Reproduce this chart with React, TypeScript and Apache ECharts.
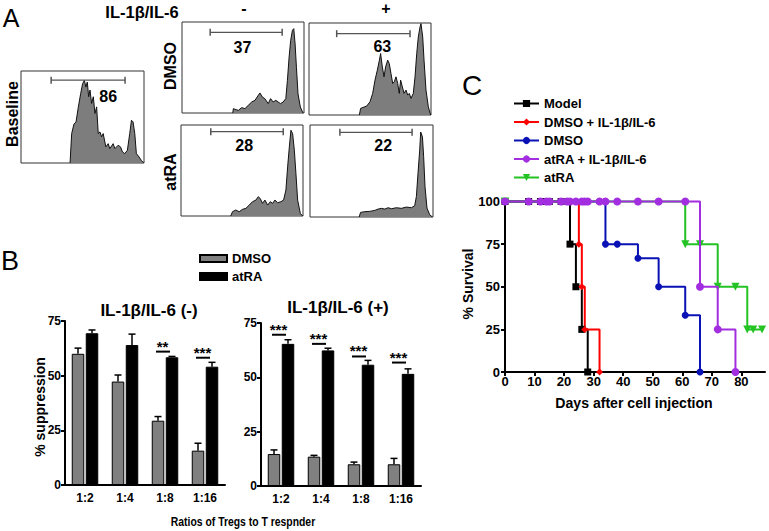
import React, { useEffect, useRef } from 'react';
import * as echarts from 'echarts';

const FONT = '"Liberation Sans", Arial, Helvetica, sans-serif';

// ---------- Panel A : flow histograms [channel %, count % of box] ----------
const histBaseline = [[39.9,0],[41.2,32],[43.1,42.5],[44.7,44.4],[46.6,60.7],[48.5,75.3],[50.1,86.2],[51.5,89.8],[52.8,82.5],[53.9,88],[55,72],[56.1,79.3],[57.4,64.7],[58.8,72],[60.1,53.8],[61.5,61],[62.8,32],[64.2,33.8],[65.5,28.4],[66.8,32],[69,17.5],[70.9,21],[72.2,15.6],[74.9,21],[76.3,15.6],[79,19.3],[80.9,17.5],[82.5,12],[84.4,10.2],[86.5,13.8],[88.4,32],[89.8,46.5],[91.1,44.7],[92.5,32],[93.8,10.2],[96,6.5],[97.8,2.9],[99.7,0]];
const histDmsoMinus = [[41.6,0],[42.1,4.8],[44.3,3.7],[46.2,2.9],[48.9,5.9],[51.6,4.8],[54.3,8.4],[57.1,12.1],[59.8,13.9],[62.5,19.4],[63.9,22],[65.8,17.6],[67.9,15.8],[70.7,10.3],[72.6,15.8],[74.7,12.1],[76.9,13.9],[78.8,12.1],[80.7,10.3],[82.9,12.1],[85.1,15.8],[86.4,35.9],[87.8,61.5],[89.1,79.9],[90.5,90.8],[91.6,92.7],[92.7,75.8],[93.8,50.2],[95.1,21],[97,6.6],[99.2,0]];
const histDmsoPlus = [[41.3,0],[42.3,7.2],[44.5,8.3],[47.3,9.7],[50,14.4],[52.2,23.5],[54.1,37.9],[56,48.7],[57.7,59.6],[58.7,66.8],[60.1,52.3],[61.5,41.5],[62.8,52.3],[64.5,59.6],[65.8,55.9],[67.2,45.1],[68.6,34.3],[69.9,36.1],[71.3,41.5],[72.7,34.3],[74,23.5],[75.1,37.9],[76.5,30.7],[77.9,23.5],[79.5,27.1],[80.9,21.7],[82.2,23.5],[83.6,18.1],[85.5,23.5],[86.9,41.5],[88.3,66.8],[89.6,84.8],[91,95.7],[91.8,99.3],[93.2,84.8],[94.3,59.6],[95.9,27.1],[97.8,9],[99.7,0]];
const histAtraMinus = [[40.8,0],[42.2,4.7],[44.9,6.6],[47.7,4.7],[50.4,7.3],[53.2,8.4],[55.9,12],[58.6,15.7],[61.4,17.5],[63.3,21.2],[64.9,19.3],[66.8,13.9],[68.8,17.5],[71,12],[73.2,15.7],[75.1,13.9],[77,17.5],[79.2,14.6],[81.9,15.7],[84.1,17.5],[86,28.5],[87.4,54],[88.8,75.9],[90.1,94.2],[91.5,90.5],[92.9,72.3],[94.2,46.7],[95.6,17.5],[97.8,2.9],[99.7,0]];
const histAtraPlus = [[40,0],[41.1,5],[44.6,5.8],[48.6,6.1],[52.7,7.2],[55.4,8.6],[58.1,9.4],[60.8,8.6],[63.5,10.1],[66.2,9],[70.3,10.1],[74.3,9.4],[78.4,10.8],[82.4,10.1],[85.1,12.2],[86.5,22.3],[87.8,47.5],[89.2,72.7],[90,92.4],[91.4,87.1],[92.4,65.5],[93.5,33.1],[95.1,9.7],[97.3,2.5],[99.5,0]];
const histograms = [histBaseline, histDmsoMinus, histDmsoPlus, histAtraMinus, histAtraPlus];
const gatePercents = [86, 37, 63, 28, 22];
const gateStart = [24.5, 23.1, 22.7, 24.4, 24.3];
const gateEnd = [84.6, 82.1, 82.8, 83.8, 83.0];
const gateLevel = [90, 88.6, 88.4, 92.7, 92];
const gateTextX = [70.9, 49.5, 60.1, 51.8, 59.5];
const gateTextY = [72, 72.5, 74, 77, 77.3];

// ---------- Panel B : suppression bars ----------
const ratios = ['1:2', '1:4', '1:8', '1:16'];
const dmsoMinus = [60, 47.3, 29.4, 15.7];
const dmsoMinusErr = [2.6, 3, 1.9, 3.4];
const atraMinus = [69.4, 64, 58.4, 54.1];
const atraMinusErr = [1.5, 5, 0.4, 2];
const dmsoPlus = [14.7, 13.5, 10, 10];
const dmsoPlusErr = [1.9, 0.6, 1, 2.7];
const atraPlus = [65.4, 62.4, 55.8, 51.6];
const atraPlusErr = [1.9, 1, 2, 2.3];
const sigStarsMinus = [0, 0, 2, 3];
const sigLevelMinus = [0, 0, 61, 58.2];
const sigStarsPlus = [3, 3, 3, 3];
const sigLevelPlus = [69.6, 65.4, 59.6, 56.8];
const suppressionTicks = [0, 25, 50, 75];

// ---------- Panel C : survival ----------
const kmModel = [[0,100],[8,100],[12,100],[14,100],[15,100],[19,100],[22,75],[24,50],[26,25],[28,0]];
const kmDmsoIL = [[0,100],[25,75],[26,50],[27,25],[32,0]];
const kmDmso = [[0,100],[34,75],[38,75],[45,66.7],[52,50],[61,33.3],[66,0]];
const kmAtraIL = [[0,100],[8,100],[12,100],[14,100],[15,100],[19,100],[21,100],[22,100],[24,100],[26,100],[27,100],[28,100],[32,100],[34,100],[38,100],[45,100],[52,100],[61,100],[66,50],[72,25],[78,0]];
const kmAtra = [[0,100],[61,75],[66,75],[72,50],[78,50],[82,25],[84,25],[87,25]];
const kmNames = ['Model', 'DMSO + IL-1β/IL-6', 'DMSO', 'atRA + IL-1β/IL-6', 'atRA'];

const histGrids = [
  { left: 21, top: 71, width: 123, height: 92 },
  { left: 182, top: 22, width: 122, height: 91 },
  { left: 309, top: 23, width: 122, height: 92 },
  { left: 181, top: 125, width: 122, height: 91 },
  { left: 310, top: 125, width: 123, height: 92 },
];

function txt(text: string, x: number, y: number, size: number, weight = 'bold', rot = 0, sx = 1) {
  return {
    type: 'text', x, y, rotation: rot, scaleX: sx,
    style: {
      text, fontSize: size, fontWeight: weight, fontFamily: FONT, fill: '#000',
      textAlign: 'center', textVerticalAlign: 'middle', align: 'center', verticalAlign: 'middle',
    },
  };
}

const errRender = (offset: number) => (params: any, api: any) => {
  const i = api.value(0), v = api.value(1), e = api.value(2);
  const p0 = api.coord([i, v]);
  const p1 = api.coord([i, v + e]);
  const x = p0[0] + offset;
  return {
    type: 'group',
    children: [
      { type: 'line', shape: { x1: x, y1: p0[1], x2: x, y2: p1[1] }, style: { stroke: '#000', lineWidth: 1.5 } },
      { type: 'line', shape: { x1: x - 3.5, y1: p1[1], x2: x + 3.5, y2: p1[1] }, style: { stroke: '#000', lineWidth: 1.5 } },
    ],
  };
};

const sigRender = (params: any, api: any) => {
  const i = api.value(0), lvl = api.value(1), n = api.value(2);
  const p = api.coord([i, lvl]);
  return {
    type: 'group',
    children: [
      { type: 'line', shape: { x1: p[0] - 9, y1: p[1], x2: p[0] + 5, y2: p[1] }, style: { stroke: '#000', lineWidth: 2 } },
      {
        type: 'text',
        style: {
          text: '*'.repeat(n), x: p[0] - 2.5, y: p[1] - 5.5, fill: '#000',
          fontSize: 15, fontWeight: 'bold', fontFamily: FONT,
          textAlign: 'center', textVerticalAlign: 'middle', align: 'center', verticalAlign: 'middle',
        },
      },
    ],
  };
};

const gateLabelRender = (params: any, api: any) => {
  const p = api.coord([api.value(0), api.value(1)]);
  return {
    type: 'text',
    style: {
      text: String(api.value(2)), x: p[0], y: p[1], fill: '#000',
      fontSize: 16, fontWeight: 'bold', fontFamily: FONT,
      textAlign: 'center', textVerticalAlign: 'middle', align: 'center', verticalAlign: 'middle',
    },
  };
};

export default function App() {
  const ref = useRef<HTMLDivElement>(null);
  useEffect(() => {
    const chart = echarts.init(ref.current!, null, { renderer: 'svg' });

    const grids: any[] = histGrids.map((g) => ({
      ...g, show: true, borderColor: '#333', borderWidth: 1, outerBoundsMode: 'none',
    }));
    grids.push({ left: 65, top: 321, width: 160, height: 164, outerBoundsMode: 'none' });
    grids.push({ left: 261, top: 323, width: 160, height: 163, outerBoundsMode: 'none' });
    grids.push({ left: 505, top: 201.5, width: 260, height: 170.5, outerBoundsMode: 'none' });

    const xAxes: any[] = histGrids.map((_, i) => ({ type: 'value', gridIndex: i, min: 0, max: 100, show: false }));
    const yAxes: any[] = histGrids.map((_, i) => ({ type: 'value', gridIndex: i, min: 0, max: 100, show: false }));

    const bLabel = { color: '#000', fontWeight: 'bold', fontSize: 12, fontFamily: FONT };
    [5, 6].forEach((gi) => {
      xAxes.push({
        type: 'category', gridIndex: gi, data: ratios,
        axisLine: { show: true, lineStyle: { color: '#000', width: 2 } },
        axisTick: { show: false },
        axisLabel: { ...bLabel, margin: 7 },
      });
      yAxes.push({
        type: 'value', gridIndex: gi, min: suppressionTicks[0], max: suppressionTicks[3], interval: 25,
        splitLine: { show: false },
        axisLine: { show: true, lineStyle: { color: '#000', width: 2 } },
        axisTick: { show: true, length: 4, lineStyle: { color: '#000', width: 2 } },
        axisLabel: { ...bLabel, margin: 4 },
      });
    });
    xAxes.push({
      type: 'value', gridIndex: 7, min: 0, max: 88, interval: 10,
      splitLine: { show: false },
      axisLine: { show: true, lineStyle: { color: '#000', width: 2 } },
      axisTick: { show: true, length: 4, lineStyle: { color: '#000', width: 2 } },
      axisLabel: { color: '#000', fontWeight: 'bold', fontSize: 13, fontFamily: FONT, margin: 3, showMaxLabel: false },
    });
    yAxes.push({
      type: 'value', gridIndex: 7, min: 0, max: 100, interval: 25,
      splitLine: { show: false },
      axisLine: { show: true, lineStyle: { color: '#000', width: 2 } },
      axisTick: { show: true, length: 4, lineStyle: { color: '#000', width: 2 } },
      axisLabel: { color: '#000', fontWeight: 'bold', fontSize: 13, fontFamily: FONT, margin: 5 },
    });

    const series: any[] = [];
    histograms.forEach((h, i) => {
      series.push({
        type: 'line', xAxisIndex: i, yAxisIndex: i, data: h, symbol: 'none', silent: true,
        lineStyle: { color: '#111', width: 1 },
        areaStyle: { color: '#7d7d7d', opacity: 1 },
      });
      series.push({
        type: 'line', xAxisIndex: i, yAxisIndex: i, symbol: 'rect', symbolSize: [1.5, 7], showSymbol: true,
        data: [[gateStart[i], gateLevel[i]], [gateEnd[i], gateLevel[i]]],
        lineStyle: { color: '#555', width: 1.2 }, itemStyle: { color: '#555' }, silent: true,
      });
      series.push({
        type: 'custom', xAxisIndex: i, yAxisIndex: i, renderItem: gateLabelRender, silent: true, z: 5,
        data: [[gateTextX[i], gateTextY[i], gatePercents[i]]],
      });
    });

    const barCommon = { type: 'bar', barWidth: 12.5, barGap: '12%' };
    const grayStyle = { color: '#808080', borderColor: '#000', borderWidth: 1 };
    const blackStyle = { color: '#000', borderColor: '#000', borderWidth: 1 };
    const panels = [
      { ax: 5, d: dmsoMinus, de: dmsoMinusErr, a: atraMinus, ae: atraMinusErr, s: sigStarsMinus, sl: sigLevelMinus },
      { ax: 6, d: dmsoPlus, de: dmsoPlusErr, a: atraPlus, ae: atraPlusErr, s: sigStarsPlus, sl: sigLevelPlus },
    ];
    panels.forEach((p) => {
      series.push({ ...barCommon, name: 'DMSO ', xAxisIndex: p.ax, yAxisIndex: p.ax, data: p.d, itemStyle: grayStyle });
      series.push({ ...barCommon, name: 'atRA ', xAxisIndex: p.ax, yAxisIndex: p.ax, data: p.a, itemStyle: blackStyle });
      series.push({
        type: 'custom', xAxisIndex: p.ax, yAxisIndex: p.ax, renderItem: errRender(-7), z: 5,
        data: p.d.map((v, i) => [i, v, p.de[i]]),
      });
      series.push({
        type: 'custom', xAxisIndex: p.ax, yAxisIndex: p.ax, renderItem: errRender(7), z: 5,
        data: p.a.map((v, i) => [i, v, p.ae[i]]),
      });
      series.push({
        type: 'custom', xAxisIndex: p.ax, yAxisIndex: p.ax, renderItem: sigRender, z: 5,
        data: p.s.map((n, i) => [i, p.sl[i], n]).filter((r) => r[2] > 0),
      });
    });

    const kmSpecs = [
      { data: kmModel, color: '#000000', symbol: 'rect', size: 7, rot: 0, z: 3 },
      { data: kmDmsoIL, color: '#ff0000', symbol: 'diamond', size: 7, rot: 0, z: 3 },
      { data: kmDmso, color: '#0a12b5', symbol: 'circle', size: 7, rot: 0, z: 3 },
      { data: kmAtraIL, color: '#a22ee0', symbol: 'circle', size: 8, rot: 0, z: 5 },
      { data: kmAtra, color: '#22c322', symbol: 'triangle', size: 8, rot: 180, z: 4 },
    ];
    kmSpecs.forEach((k, i) => {
      series.push({
        type: 'line', name: kmNames[i], xAxisIndex: 7, yAxisIndex: 7, step: 'end', data: k.data,
        symbol: k.symbol, symbolSize: k.size, symbolRotate: k.rot, showSymbol: true, clip: false, z: k.z,
        lineStyle: { color: k.color, width: 2 }, itemStyle: { color: k.color },
      });
    });

    chart.setOption({
      animation: false,
      grid: grids,
      xAxis: xAxes,
      yAxis: yAxes,
      legend: [
        {
          data: ['DMSO ', 'atRA '], orient: 'vertical', left: 194, top: 247, icon: 'rect',
          itemWidth: 27, itemHeight: 7, itemGap: 5, selectedMode: false,
          formatter: (n: string) => n.trim(),
          textStyle: { color: '#000', fontSize: 13, fontWeight: 'bold', fontFamily: FONT },
        },
        {
          data: kmNames, orient: 'vertical', left: 508, top: 92, itemWidth: 25, itemHeight: 9, itemGap: 5.5,
          selectedMode: false,
          textStyle: { color: '#000', fontSize: 13, fontWeight: 'bold', fontFamily: FONT },
        },
      ],
      graphic: [
        txt('A', 11, 18, 25, 'normal'),
        txt('B', 10, 261, 27, 'normal'),
        txt('C', 472, 85, 28, 'normal'),
        txt('IL-1β/IL-6', 142, 12, 16.5),
        txt('-', 244, 8, 16),
        txt('+', 386, 8, 16),
        txt('DMSO', 170, 66, 16, 'bold', Math.PI / 2),
        txt('atRA', 170, 172, 16, 'bold', Math.PI / 2),
        txt('Baseline', 12, 114, 16, 'bold', Math.PI / 2),
        txt('IL-1β/IL-6 (-)', 149, 310, 17),
        txt('IL-1β/IL-6 (+)', 338, 307, 17),
        txt('% suppression', 40, 407, 14, 'bold', Math.PI / 2),
        txt('Ratios of Tregs to T respnder', 243, 521, 13, 'bold', 0, 0.8),
        txt('% Survival', 468, 284, 14, 'bold', Math.PI / 2),
        txt('Days after cell injection', 634, 403, 15, 'bold', 0, 0.94),
      ],
      series,
    });
    return () => chart.dispose();
  }, []);
  return <div ref={ref} style={{ position: 'fixed', left: 0, top: 0, width: 769, height: 531, background: '#fff' }} />;
}
